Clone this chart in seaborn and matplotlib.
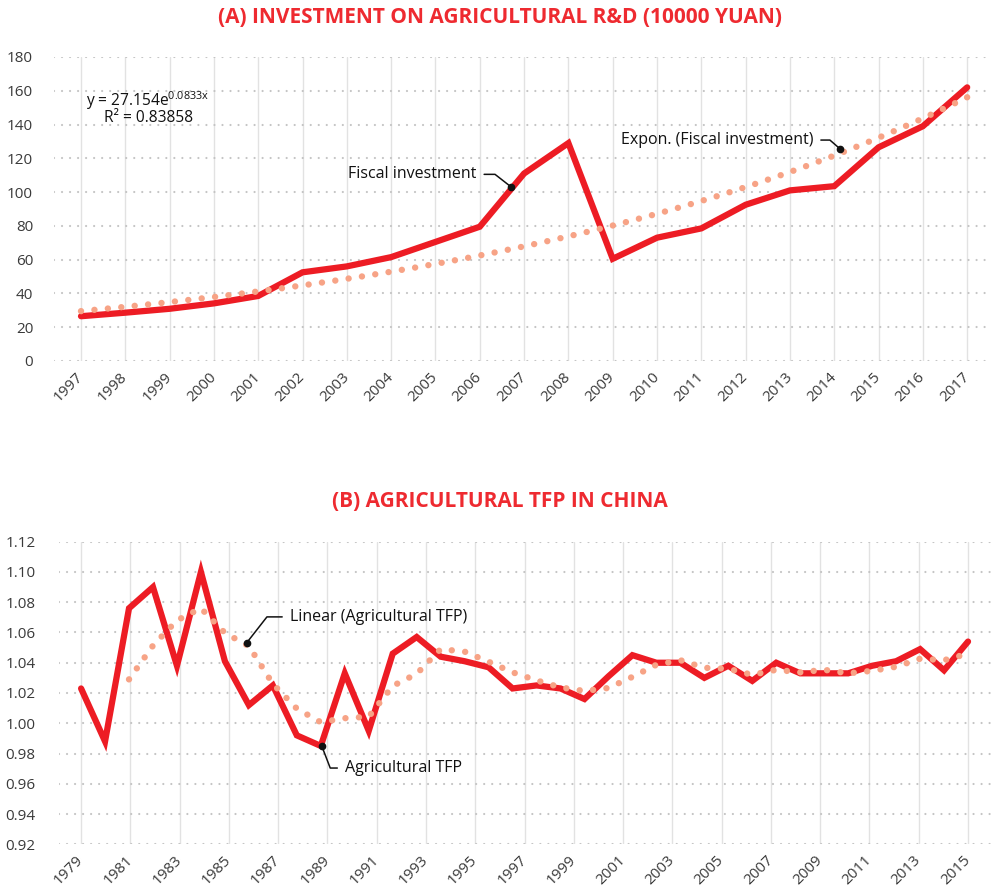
import numpy as np
import pandas as pd
import matplotlib.pyplot as plt
import seaborn as sns

# (A) fiscal investment on agricultural R&D, 10000 yuan
rd_years = list(range(1997, 2018))
rd_investment = [26.5, 28.6, 30.9, 34.1, 38.5, 52.5, 56.0, 61.5, 70.5, 79.5, 111.0,
                 129.0, 60.5, 73.0, 78.5, 92.5, 101.0, 103.5, 126.5, 139.0, 162.0]
# exponential trendline printed on the chart: y = a * e^(b*x), x = 1..n
trend_a = 27.154
trend_b = 0.0833

# (B) agricultural TFP (38 observations drawn across the 1979-2015 axis)
tfp_values = [1.023, 0.988, 1.076, 1.090, 1.038, 1.100, 1.041, 1.012, 1.025, 0.992,
              0.985, 1.033, 0.995, 1.046, 1.057, 1.044, 1.041, 1.037, 1.023, 1.025,
              1.023, 1.016, 1.031, 1.045, 1.040, 1.040, 1.030, 1.038, 1.028, 1.040,
              1.033, 1.033, 1.033, 1.038, 1.041, 1.049, 1.035, 1.054]
tfp_tick_years = list(range(1979, 2016, 2))

RED = "#ED1C24"
SALMON = "#F7A386"
TITLE_RED = "#EE2A30"
TEXT = "#3A3A3A"

sns.set_style("white")
plt.rcParams["font.family"] = ["Open Sans", "DejaVu Sans"]
plt.rcParams["axes.unicode_minus"] = False

fig = plt.figure(figsize=(9.92, 8.90), dpi=100)


def style_axes(ax, ypad):
    sns.despine(ax=ax, left=True, bottom=True)
    ax.tick_params(length=0, labelsize=11, labelcolor=TEXT)
    ax.tick_params(axis="y", pad=ypad)
    ax.tick_params(axis="x", pad=10)
    ax.grid(axis="x", color="#E2E2E2", linewidth=1.0, linestyle="-")
    ax.grid(axis="y", color="#C4C4C4", linewidth=1.6, linestyle=(0, (0.01, 3.6)))
    for gl in ax.get_ygridlines():
        gl.set_dash_capstyle("round")
    ax.set_axisbelow(True)
    ax.set_xlabel("")
    ax.set_ylabel("")
    for lab in ax.get_xticklabels():
        lab.set_rotation(45)
        lab.set_ha("right")
        lab.set_va("center")
        lab.set_rotation_mode("anchor")


def note(ax, text, dot, textpos, angle_b, ha):
    ax.annotate(text, xy=dot, xytext=textpos, fontsize=11.5, color="#111111",
                ha=ha, va="center",
                arrowprops=dict(arrowstyle="-", color="#111111", lw=1.1,
                                shrinkA=3, shrinkB=0,
                                connectionstyle=f"angle,angleA=0,angleB={angle_b},rad=0"))
    ax.plot([dot[0]], [dot[1]], "o", color="#111111", markersize=4.5, zorder=6)


# ---------------- (A) ----------------
ax1 = fig.add_axes([0.0544, 0.5944, 0.9456, 0.3416])
df_rd = pd.DataFrame({"year": rd_years, "value": rd_investment})
sns.lineplot(data=df_rd, x="year", y="value", color=RED, linewidth=4.5,
             solid_joinstyle="miter", ax=ax1, zorder=3)

t = np.linspace(1, len(rd_years), 300)
df_trend = pd.DataFrame({"year": rd_years[0] - 1 + t, "value": trend_a * np.exp(trend_b * t)})
sns.lineplot(data=df_trend, x="year", y="value", color=SALMON, linewidth=4.6,
             linestyle=(0, (0.01, 2.1)), dash_capstyle="round", ax=ax1, zorder=4)

ax1.set_xlim(1996.39, 2017.56)
ax1.set_ylim(0, 180)
ax1.set_yticks(range(0, 181, 20))
ax1.set_xticks(rd_years)
ax1.set_xticklabels([str(y) for y in rd_years])
style_axes(ax1, ypad=15)

ax1.text(1998.51, 154.4, "y = 27.154e$^{\\mathregular{0.0833x}}$", fontsize=11.2,
         color="#111111", ha="center", va="center")
ax1.text(1998.53, 143.6, "R² = 0.83858", fontsize=11.2, color="#111111",
         ha="center", va="center")

note(ax1, "Fiscal investment", (2006.71, 103.0), (2005.93, 110.5), -38, "right")
note(ax1, "Expon. (Fiscal investment)", (2014.13, 125.6), (2013.53, 130.8), -41, "right")

# ---------------- (B) ----------------
ax2 = fig.add_axes([0.0595, 0.05135, 0.9405, 0.34])
df_tfp = pd.DataFrame({"idx": np.arange(len(tfp_values)), "value": tfp_values})
df_tfp["avg"] = df_tfp["value"].rolling(3).mean()
sns.lineplot(data=df_tfp, x="idx", y="value", color=RED, linewidth=4.5,
             solid_joinstyle="miter", ax=ax2, zorder=3)
sns.lineplot(data=df_tfp.dropna(), x="idx", y="avg", color=SALMON, linewidth=4.6,
             linestyle=(0, (0.01, 2.1)), dash_capstyle="round", ax=ax2, zorder=4)

ax2.set_xlim(-0.92, 38.0)
ax2.set_ylim(0.92, 1.12)
ax2.set_yticks(np.arange(0.92, 1.1201, 0.02))
ax2.set_yticklabels([f"{v:.2f}" for v in np.arange(0.92, 1.1201, 0.02)])
ax2.set_xticks(np.linspace(0, len(tfp_values) - 1, len(tfp_tick_years)))
ax2.set_xticklabels([str(y) for y in tfp_tick_years])
style_axes(ax2, ypad=17)

note(ax2, "Linear (Agricultural TFP)", (6.91, 1.0532), (8.7, 1.0703), 52, "left")
note(ax2, "Agricultural TFP", (10.04, 0.985), (11.0, 0.9704), 111, "left")

# titles
fig.text(0.504, 0.9798, "(A) INVESTMENT ON AGRICULTURAL R&D (10000 YUAN)", fontsize=15,
         fontweight="bold", color=TITLE_RED, ha="center", va="center")
fig.text(0.504, 0.436, "(B) AGRICULTURAL TFP IN CHINA", fontsize=15, fontweight="bold",
         color=TITLE_RED, ha="center", va="center")

fig.savefig("out.png", dpi=100)
